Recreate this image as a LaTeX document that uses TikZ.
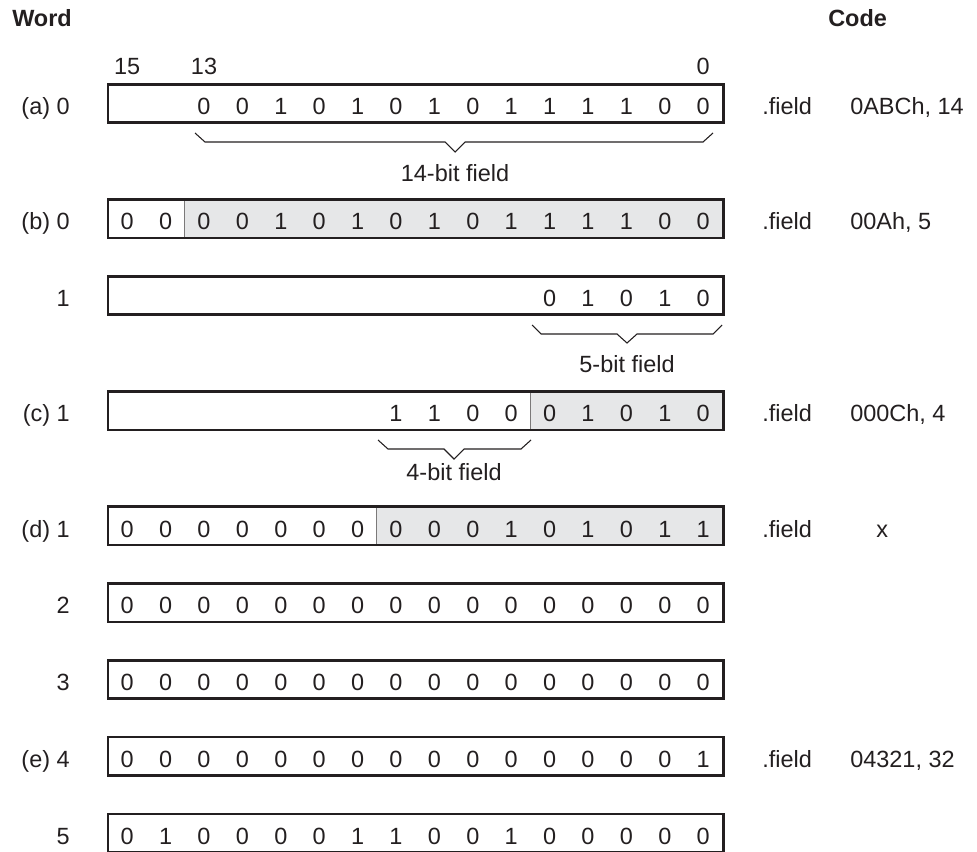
\documentclass[tikz,border=0pt]{standalone}
\usepackage{fontspec}
\setmainfont{Liberation Sans}
\definecolor{ink}{HTML}{231F20}
\definecolor{cellgray}{HTML}{E6E7E8}
\newcommand\regrow[4]{% #1 row name, #2 top y, #3 first cell, #4 bits
  \foreach \b [count=\k from #3] in {#4} {
    \node[bit] (#1-\k) at ({127.2+38.4*\k},{#2+30.4}) {\b};
  }
}
\newcommand\regframe[2]{% #1 row name, #2 top y
  \draw[regline] (108,#2) rectangle (723.4,{#2+38.4});
}
\begin{document}
\begin{tikzpicture}[x=0.75pt,y=-0.75pt,
  every node/.style={text=ink, font=\fontsize{17.6}{20}\selectfont, inner sep=0pt},
  bit/.style={anchor=base},
  rowlabel/.style={anchor=base east},
  codetext/.style={anchor=base west},
  headtext/.style={anchor=base west, font=\fontsize{17.6}{20}\selectfont\bfseries},
  regline/.style={draw=ink, line width=2pt},
  divider/.style={draw=ink!60, line width=0.8pt},
  bracepath/.style={draw=ink, line width=0.8pt, line join=miter},
  cellfill/.style={fill=cellgray},
]
\useasboundingbox (0,0) rectangle (977,852);

% headings
\node[headtext] (hword) at (12,27) {Word};
\node[headtext] (hcode) at (828,27) {Code};
\node[bit] (n15) at (127.2,75) {15};
\node[bit] (n13) at (204,75) {13};
\node[bit] (n0) at (703.2,75) {0};

% shading
\path[cellfill] (184.8,199.5) rectangle (723.4,237.9);
\path[cellfill] (530.4,391.5) rectangle (723.4,429.9);
\path[cellfill] (376.8,506.7) rectangle (723.4,545.1);
\draw[divider] (184.8,199.5) -- (184.8,237.9);
\draw[divider] (530.4,391.5) -- (530.4,429.9);
\draw[divider] (376.8,506.7) -- (376.8,545.1);

% frames
\regframe{ra}{84.3}
\regframe{rb}{199.5}
\regframe{r1}{276.3}
\regframe{rc}{391.5}
\regframe{rd}{506.7}
\regframe{r2}{583.5}
\regframe{r3}{660.3}
\regframe{re}{737.1}
\regframe{r5}{813.9}

% bits
\regrow{ra}{84.3}{2}{0,0,1,0,1,0,1,0,1,1,1,1,0,0}
\regrow{rb}{199.5}{0}{0,0,0,0,1,0,1,0,1,0,1,1,1,1,0,0}
\regrow{r1}{276.3}{11}{0,1,0,1,0}
\regrow{rc}{391.5}{7}{1,1,0,0,0,1,0,1,0}
\regrow{rd}{506.7}{0}{0,0,0,0,0,0,0,0,0,0,1,0,1,0,1,1}
\regrow{r2}{583.5}{0}{0,0,0,0,0,0,0,0,0,0,0,0,0,0,0,0}
\regrow{r3}{660.3}{0}{0,0,0,0,0,0,0,0,0,0,0,0,0,0,0,0}
\regrow{re}{737.1}{0}{0,0,0,0,0,0,0,0,0,0,0,0,0,0,0,1}
\regrow{r5}{813.9}{0}{0,1,0,0,0,0,1,1,0,0,1,0,0,0,0,0}

% row labels
\node[rowlabel] (la) at (70,114.7) {(a) 0};
\node[rowlabel] (lb) at (70,229.9) {(b) 0};
\node[rowlabel] (l1) at (70,306.7) {1};
\node[rowlabel] (lc) at (70,421.9) {(c) 1};
\node[rowlabel] (ld) at (70,537.1) {(d) 1};
\node[rowlabel] (l2) at (70,613.9) {2};
\node[rowlabel] (l3) at (70,690.7) {3};
\node[rowlabel] (le) at (70,767.5) {(e) 4};
\node[rowlabel] (l5) at (70,844.3) {5};

% code column
\node[codetext] (fa) at (762,114.7) {.field};
\node[codetext] (ca) at (850,114.7) {0ABCh, 14};
\node[codetext] (fb) at (762,229.9) {.field};
\node[codetext] (cb) at (850,229.9) {00Ah, 5};
\node[codetext] (fc) at (762,421.9) {.field};
\node[codetext] (cc) at (850,421.9) {000Ch, 4};
\node[codetext] (fd) at (762,537.1) {.field};
\node[codetext] (cd) at (876,537.1) {x};
\node[codetext] (fe) at (762,767.5) {.field};
\node[codetext] (ce) at (850,767.5) {04321, 32};

% braces
\draw[bracepath] (195,133) -- (205,142) -- (445,142) -- (455,152) -- (465,142) -- (703,142) -- (713,133);
\node[bit] (ba) at (455,182) {14-bit field};
\draw[bracepath] (532,325) -- (541,334) -- (617,334) -- (627,343) -- (637,334) -- (713,334) -- (722,325);
\node[bit] (b1) at (627,372) {5-bit field};
\draw[bracepath] (378,440) -- (388,449) -- (444,449) -- (454,459) -- (464,449) -- (521,449) -- (531,440);
\node[bit] (bc) at (454,480) {4-bit field};
\end{tikzpicture}
\end{document}
